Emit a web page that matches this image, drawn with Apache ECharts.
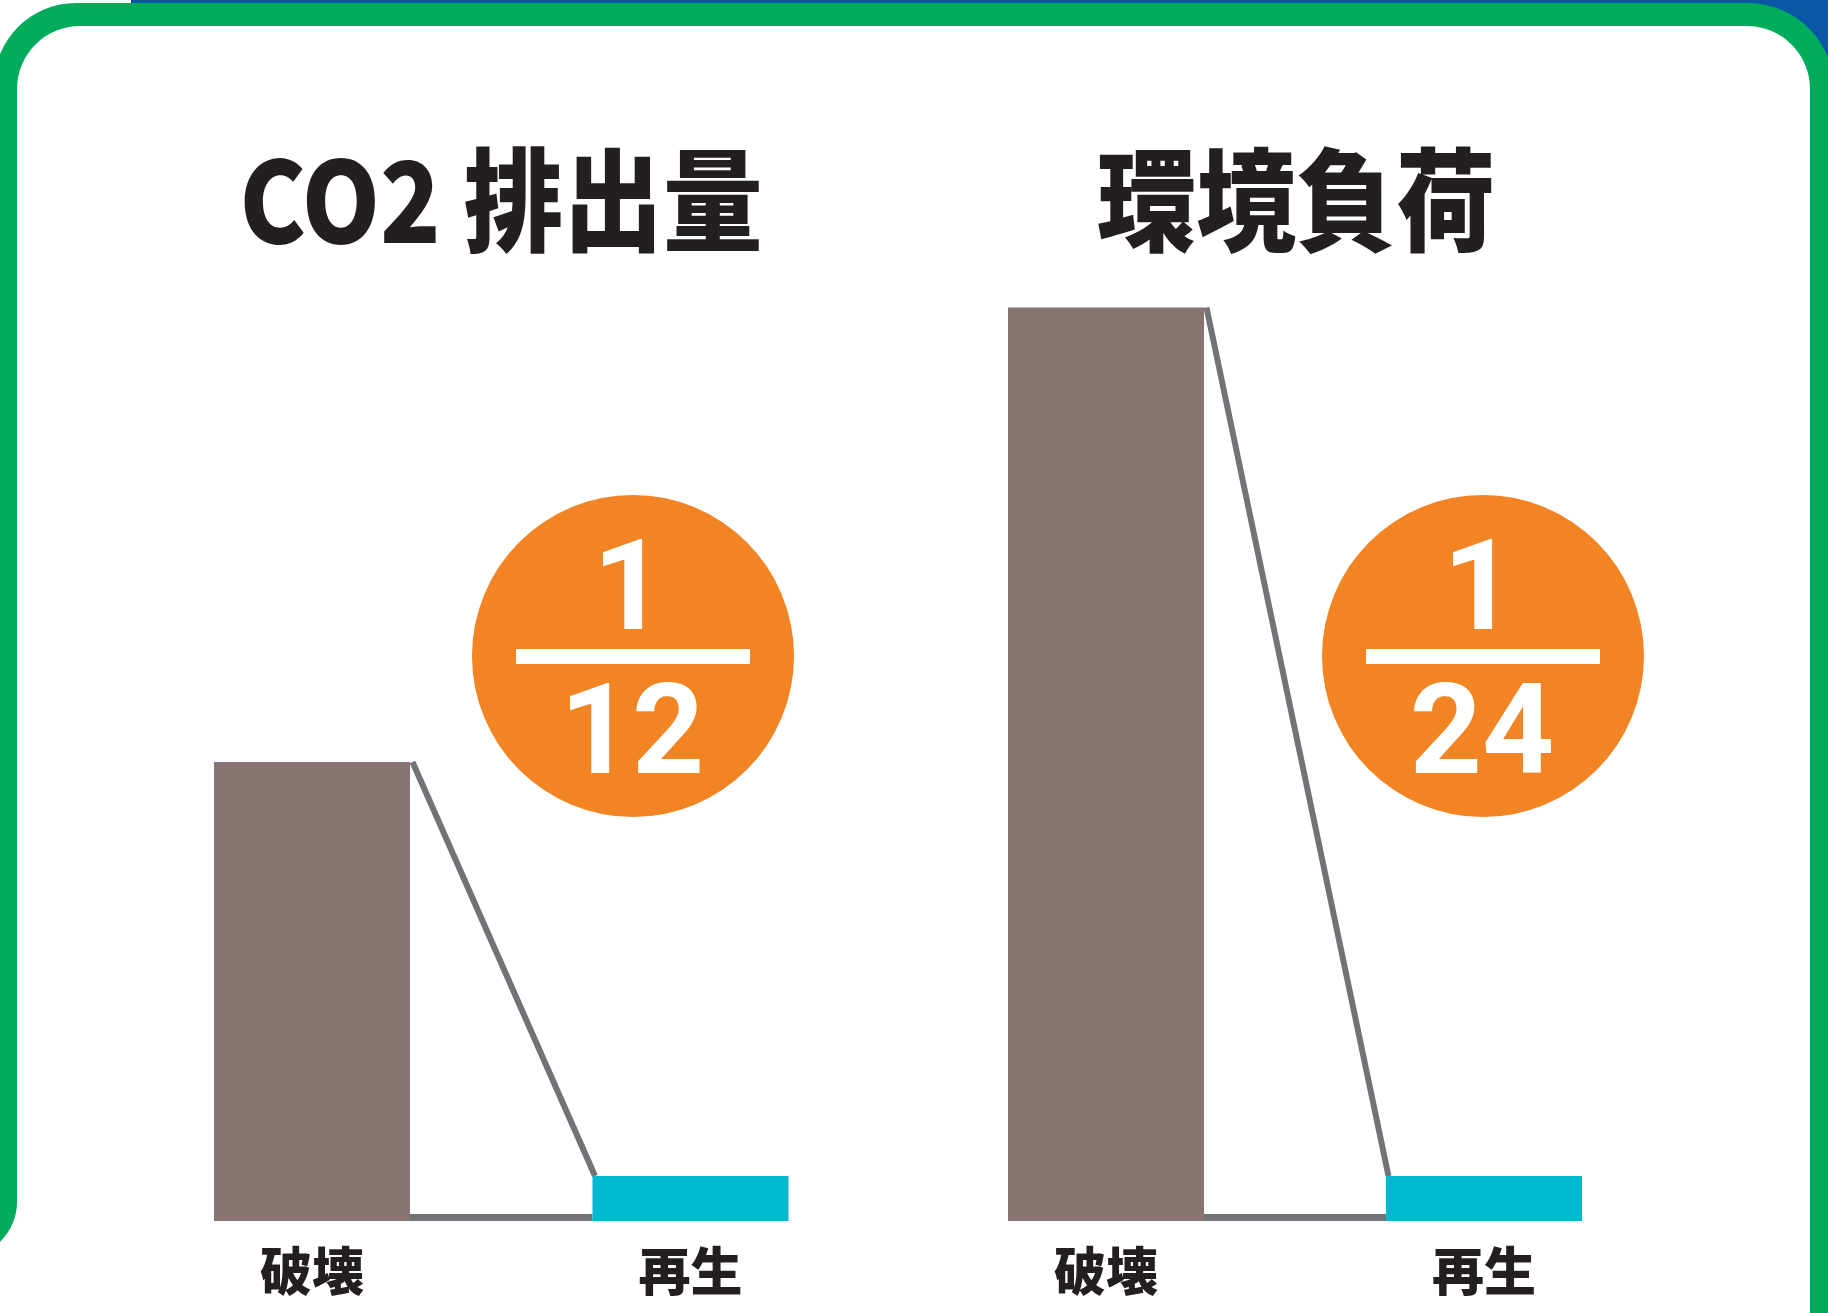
<!DOCTYPE html>
<html>
<head>
<meta charset="utf-8">
<script src="https://cdn.jsdelivr.net/npm/echarts@6/dist/echarts.min.js"></script>
<style>
html,body{margin:0;padding:0;background:#ffffff;}
#chart{width:1828px;height:1313px;}
</style>
</head>
<body>
<div id="chart"></div>
<script>
// ---- data ----
const categories = ['破壊', '再生'];
const co2Values = [10.2, 1.0];
const loadValues = [20.3, 1.0];
const panelTitles = ['CO2 排出量', '環境負荷'];
const ratioNumerators = ['1', '1'];
const ratioDenominators = ['12', '24'];

// ---- styles ----
const BROWN = '#887472';
const CYAN = '#00b8cf';
const LINE = '#727377';
const ORANGE = '#f38424';
const GREEN = '#00ac5b';
const BLUE = '#0a57a6';
const INK = '#231f20';
const BAR_W = 196;
const CJK = '"Noto Sans CJK JP","Noto Sans CJK SC",sans-serif';

const chart = echarts.init(document.getElementById('chart'), null, {renderer: 'canvas'});

function connector(params, api) {
  const a = api.coord([api.value(0), api.value(1)]);
  const b = api.coord([api.value(2), api.value(3)]);
  const base = api.coord([api.value(0), 0]);
  const h = BAR_W / 2;
  return {
    type: 'group',
    children: [
      {type: 'line', shape: {x1: a[0] + h + 2.5, y1: a[1], x2: b[0] - h + 2.5, y2: b[1]},
       style: {stroke: LINE, lineWidth: 6}},
      {type: 'line', shape: {x1: a[0] + h, y1: base[1] - 3.5, x2: b[0] - h, y2: base[1] - 3.5},
       style: {stroke: LINE, lineWidth: 7}}
    ]
  };
}

function barSeries(idx, values) {
  return {
    type: 'bar', xAxisIndex: idx, yAxisIndex: idx, barWidth: BAR_W, z: 3,
    silent: true, animation: false,
    itemStyle: {color: p => p.dataIndex === 0 ? BROWN : CYAN},
    data: values
  };
}
function lineSeries(idx, values) {
  return {
    type: 'custom', xAxisIndex: idx, yAxisIndex: idx, z: 2, silent: true, animation: false,
    renderItem: connector,
    encode: {x: [0, 2], y: [1, 3]},
    data: [[0, values[0], 1, values[1]]]
  };
}

const xAxisBase = {
  type: 'category', data: categories, boundaryGap: false,
  axisLine: {show: false}, axisTick: {show: false}, splitLine: {show: false},
  axisLabel: {margin: 24, color: INK, fontSize: 52, fontWeight: 900, fontFamily: CJK, interval: 0}
};
const yAxisBase = {type: 'value', min: 0, max: 22, show: false, splitLine: {show: false}};

function fractionGraphics(cx, cy, num, den) {
  const font = 'bold 126px Roboto, sans-serif';
  return [
    {type: 'circle', shape: {cx: cx, cy: cy, r: 161}, style: {fill: ORANGE}, z: 10, silent: true},
    {type: 'text', x: cx - 4, y: cy - 59, z: 11, silent: true,
     style: {text: num, fill: '#ffffff', font: font, align: 'center', verticalAlign: 'middle'}},
    {type: 'rect', shape: {x: cx - 117, y: cy - 7, width: 234, height: 15}, style: {fill: '#ffffff'}, z: 11, silent: true},
    {type: 'text', x: cx - 1, y: cy + 85, z: 11, silent: true,
     style: {text: den, fill: '#ffffff', font: font, align: 'center', verticalAlign: 'middle'}}
  ];
}

function titleGraphic(cx, text) {
  return {
    type: 'text', x: cx, y: 200, z: 5, silent: true, scaleX: 0.89,
    style: {text: text, fill: INK, font: '900 112px ' + CJK, align: 'center', verticalAlign: 'middle'}
  };
}

const option = {
  backgroundColor: '#ffffff',
  animation: false,
  grid: [
    {left: 312, width: 378.5, top: 231, bottom: 92},
    {left: 1106, width: 378, top: 231, bottom: 92}
  ],
  xAxis: [Object.assign({gridIndex: 0}, xAxisBase), Object.assign({gridIndex: 1}, xAxisBase)],
  yAxis: [Object.assign({gridIndex: 0}, yAxisBase), Object.assign({gridIndex: 1}, yAxisBase)],
  series: [
    lineSeries(0, co2Values), barSeries(0, co2Values),
    lineSeries(1, loadValues), barSeries(1, loadValues)
  ],
  graphic: [
    {type: 'rect', shape: {x: 131, y: 0, width: 1697, height: 6}, style: {fill: BLUE}, z: -30, silent: true},
    {type: 'rect', shape: {x: 1690, y: 0, width: 138, height: 200}, style: {fill: BLUE}, z: -30, silent: true},
    {type: 'rect', shape: {x: -6, y: 3, width: 1840, height: 1400, r: [82, 86, 0, 0]}, style: {fill: GREEN}, z: -20, silent: true},
    {type: 'rect', shape: {x: -10, y: 1150, width: 27, height: 200}, style: {fill: '#ffffff'}, z: -19, silent: true},
    {type: 'rect', shape: {x: -60, y: 1100, width: 77, height: 157, r: [0, 0, 55, 0]}, style: {fill: GREEN}, z: -18, silent: true},
    {type: 'rect', shape: {x: 17, y: 26, width: 1793, height: 1400, r: [63, 63, 0, 0]}, style: {fill: '#ffffff'}, z: -10, silent: true},
    titleGraphic(501, panelTitles[0]),
    titleGraphic(1296, panelTitles[1])
  ].concat(fractionGraphics(633, 656, ratioNumerators[0], ratioDenominators[0]))
   .concat(fractionGraphics(1483, 656, ratioNumerators[1], ratioDenominators[1]))
};
chart.setOption(option);
</script>
</body>
</html>
